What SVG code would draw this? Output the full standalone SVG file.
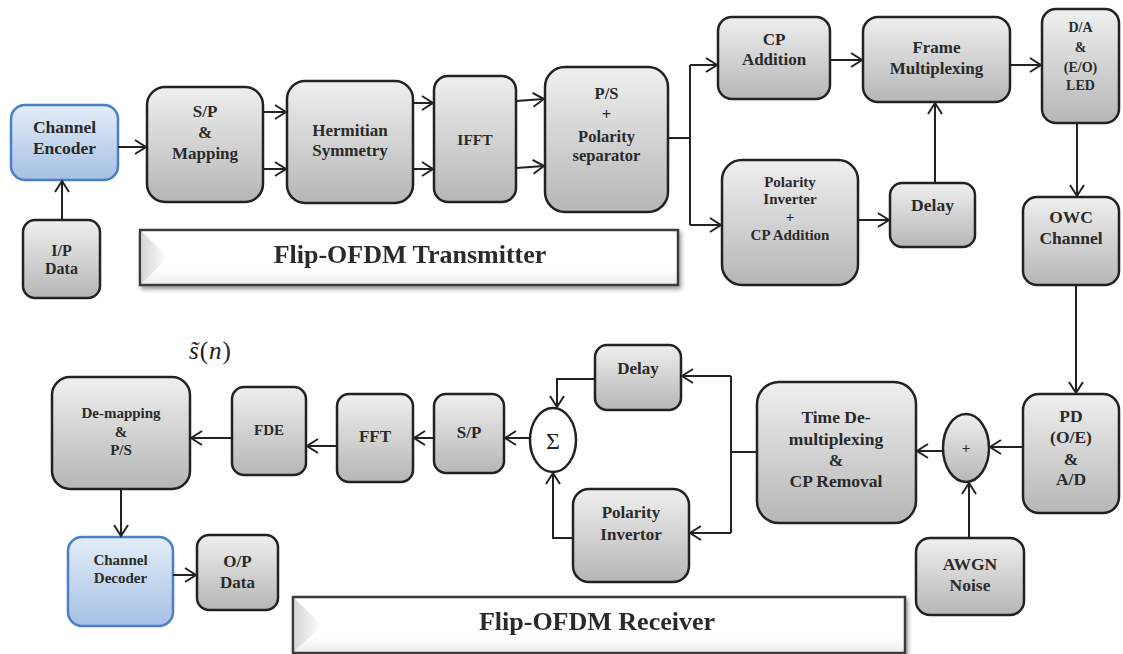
<svg xmlns="http://www.w3.org/2000/svg" width="1123" height="654" viewBox="0 0 1123 654">
<defs>
<linearGradient id="g" x1="0" y1="0" x2="0" y2="1"><stop offset="0" stop-color="#efefef"/><stop offset="1" stop-color="#b6b6b6"/></linearGradient>
<linearGradient id="b" x1="0" y1="0" x2="0" y2="1"><stop offset="0" stop-color="#e3edf9"/><stop offset="1" stop-color="#a6c0e4"/></linearGradient>
<linearGradient id="bn" x1="0" y1="0" x2="0" y2="1"><stop offset="0" stop-color="#ffffff"/><stop offset="0.7" stop-color="#ffffff"/><stop offset="1" stop-color="#ececec"/></linearGradient>
<linearGradient id="bv" x1="0" y1="0" x2="1" y2="0"><stop offset="0" stop-color="#d6d6d6"/><stop offset="1" stop-color="#ffffff"/></linearGradient>
<filter id="sh" x="-5%" y="-20%" width="110%" height="150%"><feGaussianBlur in="SourceAlpha" stdDeviation="2"/><feOffset dx="2" dy="3"/><feComponentTransfer><feFuncA type="linear" slope="0.4"/></feComponentTransfer><feMerge><feMergeNode/><feMergeNode in="SourceGraphic"/></feMerge></filter>
<marker id="a" markerWidth="14" markerHeight="16" refX="12" refY="8" orient="auto" markerUnits="userSpaceOnUse"><path d="M1,1 L12,8 L1,15" fill="none" stroke="#222" stroke-width="2"/></marker>
</defs>
<style>
.n{fill:url(#g);stroke:#222;stroke-width:2.5}
.nb{fill:url(#b);stroke:#4a80c4;stroke-width:2.5}
.t{font-family:"Liberation Serif",serif;font-weight:bold;fill:#2a2a2a;text-anchor:middle}
.c path,.c line,.c polyline{fill:none;stroke:#222;stroke-width:2}
.ban{fill:url(#bn);stroke:#3a3a3a;stroke-width:2.5}
</style>
<rect width="1123" height="654" fill="#fff"/>

<g id="banner-tx" filter="url(#sh)">
<rect class="ban" x="140" y="230" width="538" height="55"/>
<polygon points="142,232 168,257.5 142,283" fill="url(#bv)"/>
<text class="t" x="410" y="263" font-size="26">Flip-OFDM Transmitter</text>
</g>
<g id="banner-rx" filter="url(#sh)">
<rect class="ban" x="293" y="597" width="612" height="56"/>
<polygon points="295,599 322,625 295,651" fill="url(#bv)"/>
<text class="t" x="597" y="630" font-size="26">Flip-OFDM Receiver</text>
</g>

<g id="channel-encoder"><rect class="nb" x="11" y="105" width="107" height="75" rx="14"/>
<text class="t" font-size="17.5"><tspan x="64.5" y="133">Channel</tspan><tspan x="64.5" y="154">Encoder</tspan></text></g>
<g id="ip-data"><rect class="n" x="23" y="220" width="77" height="78" rx="12"/>
<text class="t" font-size="16"><tspan x="61.5" y="256">I/P</tspan><tspan x="61.5" y="274">Data</tspan></text></g>
<g id="sp-mapping"><rect class="n" x="147" y="87" width="116" height="115" rx="18"/>
<text class="t" font-size="17"><tspan x="205" y="117">S/P</tspan><tspan x="205" y="138">&amp;</tspan><tspan x="205" y="159">Mapping</tspan></text></g>
<g id="hermitian"><rect class="n" x="287" y="81" width="126" height="122" rx="18"/>
<text class="t" font-size="17"><tspan x="350" y="136">Hermitian</tspan><tspan x="350" y="156">Symmetry</tspan></text></g>
<g id="ifft"><rect class="n" x="434" y="76" width="82" height="126" rx="14"/>
<text class="t" x="475" y="145" font-size="15.5">IFFT</text></g>
<g id="ps-polarity"><rect class="n" x="545" y="67" width="123" height="145" rx="20"/>
<text class="t" font-size="16.5"><tspan x="606.5" y="99">P/S</tspan><tspan x="606.5" y="120">+</tspan><tspan x="606.5" y="142">Polarity</tspan><tspan x="606.5" y="161">separator</tspan></text></g>
<g id="cp-addition"><rect class="n" x="718" y="17" width="112" height="82" rx="14"/>
<text class="t" font-size="17"><tspan x="774" y="45">CP</tspan><tspan x="774" y="65">Addition</tspan></text></g>
<g id="polarity-inverter-cp"><rect class="n" x="722" y="160" width="136" height="125" rx="20"/>
<text class="t" font-size="15"><tspan x="790" y="187">Polarity</tspan><tspan x="790" y="204">Inverter</tspan><tspan x="790" y="222">+</tspan><tspan x="790" y="240">CP Addition</tspan></text></g>
<g id="frame-mux"><rect class="n" x="863" y="17" width="147" height="85" rx="15"/>
<text class="t" font-size="17"><tspan x="936.5" y="53">Frame</tspan><tspan x="936.5" y="74">Multiplexing</tspan></text></g>
<g id="delay-tx"><rect class="n" x="890" y="183" width="85" height="64" rx="12"/>
<text class="t" x="932.5" y="211" font-size="17.5">Delay</text></g>
<g id="da-led"><rect class="n" x="1042" y="9" width="77" height="114" rx="14"/>
<text class="t" font-size="14"><tspan x="1080.5" y="32">D/A</tspan><tspan x="1080.5" y="52">&amp;</tspan><tspan x="1080.5" y="72">(E/O)</tspan><tspan x="1080.5" y="90">LED</tspan></text></g>
<g id="owc-channel"><rect class="n" x="1023" y="197" width="96" height="88" rx="14"/>
<text class="t" font-size="17.5"><tspan x="1071" y="223">OWC</tspan><tspan x="1071" y="244">Channel</tspan></text></g>

<g id="pd-ad"><rect class="n" x="1023" y="394" width="96" height="119" rx="16"/>
<text class="t" font-size="17.5"><tspan x="1071" y="422">PD</tspan><tspan x="1071" y="443">(O/E)</tspan><tspan x="1071" y="465">&amp;</tspan><tspan x="1071" y="485">A/D</tspan></text></g>
<g id="adder"><ellipse class="n" cx="966" cy="448" rx="23" ry="34"/>
<text class="t" x="966" y="453" font-size="15">+</text></g>
<g id="awgn"><rect class="n" x="916" y="538" width="108" height="77" rx="14"/>
<text class="t" font-size="17.5"><tspan x="970" y="570">AWGN</tspan><tspan x="970" y="591">Noise</tspan></text></g>
<g id="time-demux"><rect class="n" x="757" y="382" width="159" height="141" rx="22"/>
<text class="t" font-size="17.5"><tspan x="836" y="423">Time De-</tspan><tspan x="836" y="445">multiplexing</tspan><tspan x="836" y="466">&amp;</tspan><tspan x="836" y="487">CP Removal</tspan></text></g>
<g id="delay-rx"><rect class="n" x="595" y="345" width="86" height="65" rx="12"/>
<text class="t" x="638" y="374" font-size="17">Delay</text></g>
<g id="polarity-invertor"><rect class="n" x="573" y="489" width="116" height="93" rx="16"/>
<text class="t" font-size="17"><tspan x="631" y="518">Polarity</tspan><tspan x="631" y="540">Invertor</tspan></text></g>
<g id="sigma"><ellipse cx="553" cy="440" rx="23" ry="32" fill="#fff" stroke="#222" stroke-width="2.5"/>
<text x="553" y="449" font-size="24" font-family="'Liberation Serif',serif" text-anchor="middle" fill="#222">Σ</text></g>
<g id="sp-rx"><rect class="n" x="434" y="394" width="70" height="79" rx="12"/>
<text class="t" x="469" y="438" font-size="17">S/P</text></g>
<g id="fft"><rect class="n" x="337" y="394" width="76" height="88" rx="12"/>
<text class="t" x="375" y="442" font-size="17">FFT</text></g>
<g id="fde"><rect class="n" x="232" y="387" width="74" height="88" rx="12"/>
<text class="t" x="269" y="435" font-size="15">FDE</text></g>
<g id="demapping"><rect class="n" x="52" y="377" width="138" height="112" rx="18"/>
<text class="t" font-size="15"><tspan x="121" y="418">De-mapping</tspan><tspan x="121" y="437">&amp;</tspan><tspan x="121" y="455">P/S</tspan></text></g>
<g id="channel-decoder"><rect class="nb" x="68" y="537" width="105" height="89" rx="14"/>
<text class="t" font-size="15"><tspan x="120.5" y="565">Channel</tspan><tspan x="120.5" y="583">Decoder</tspan></text></g>
<g id="op-data"><rect class="n" x="197" y="535" width="81" height="75" rx="12"/>
<text class="t" font-size="17"><tspan x="237.5" y="567">O/P</tspan><tspan x="237.5" y="588">Data</tspan></text></g>
<g id="s-tilde-label"><text x="189" y="359" font-size="25" font-family="'Liberation Serif',serif" fill="#222" letter-spacing="1"><tspan font-style="italic">s̃</tspan><tspan>(</tspan><tspan font-style="italic">n</tspan><tspan>)</tspan></text></g>

<g id="connectors" class="c">
<line x1="62" y1="220" x2="62" y2="181" marker-end="url(#a)"/>
<line x1="118" y1="147" x2="146" y2="147" marker-end="url(#a)"/>
<line x1="263" y1="112" x2="286" y2="112" marker-end="url(#a)"/>
<line x1="263" y1="169" x2="286" y2="169" marker-end="url(#a)"/>
<line x1="413" y1="103" x2="433" y2="103" marker-end="url(#a)"/>
<line x1="413" y1="169" x2="433" y2="169" marker-end="url(#a)"/>
<line x1="516" y1="101" x2="544" y2="99" marker-end="url(#a)"/>
<line x1="516" y1="168" x2="544" y2="166" marker-end="url(#a)"/>
<path d="M668,138 H690" stroke-width="3"/>
<path d="M690,65 V225"/>
<line x1="690" y1="65" x2="717" y2="65" marker-end="url(#a)"/>
<line x1="690" y1="225" x2="721" y2="225" marker-end="url(#a)"/>
<line x1="830" y1="60" x2="862" y2="60" marker-end="url(#a)"/>
<line x1="1010" y1="65" x2="1041" y2="65" marker-end="url(#a)"/>
<line x1="1077" y1="123" x2="1077" y2="196" marker-end="url(#a)"/>
<line x1="858" y1="220" x2="889" y2="220" marker-end="url(#a)"/>
<line x1="935" y1="183" x2="935" y2="103" marker-end="url(#a)"/>
<line x1="1076" y1="285" x2="1076" y2="393" marker-end="url(#a)"/>
<line x1="1023" y1="447" x2="990" y2="447" marker-end="url(#a)"/>
<line x1="969" y1="538" x2="969" y2="483" marker-end="url(#a)"/>
<line x1="943" y1="451" x2="917" y2="451" marker-end="url(#a)"/>
<path d="M757,452 H731" stroke-width="3"/>
<path d="M731,376 V533"/>
<line x1="731" y1="376" x2="682" y2="376" marker-end="url(#a)"/>
<line x1="731" y1="533" x2="690" y2="533" marker-end="url(#a)"/>
<polyline points="595,379 557,379 557,407" marker-end="url(#a)"/>
<polyline points="573,538 553,538 553,473" marker-end="url(#a)"/>
<line x1="530" y1="438" x2="505" y2="438" marker-end="url(#a)"/>
<line x1="434" y1="438" x2="414" y2="438" marker-end="url(#a)"/>
<line x1="337" y1="446" x2="307" y2="446" marker-end="url(#a)"/>
<line x1="232" y1="438" x2="191" y2="438" marker-end="url(#a)"/>
<line x1="121" y1="489" x2="121" y2="536" marker-end="url(#a)"/>
<line x1="173" y1="575" x2="196" y2="575" marker-end="url(#a)"/>
</g>
</svg>
